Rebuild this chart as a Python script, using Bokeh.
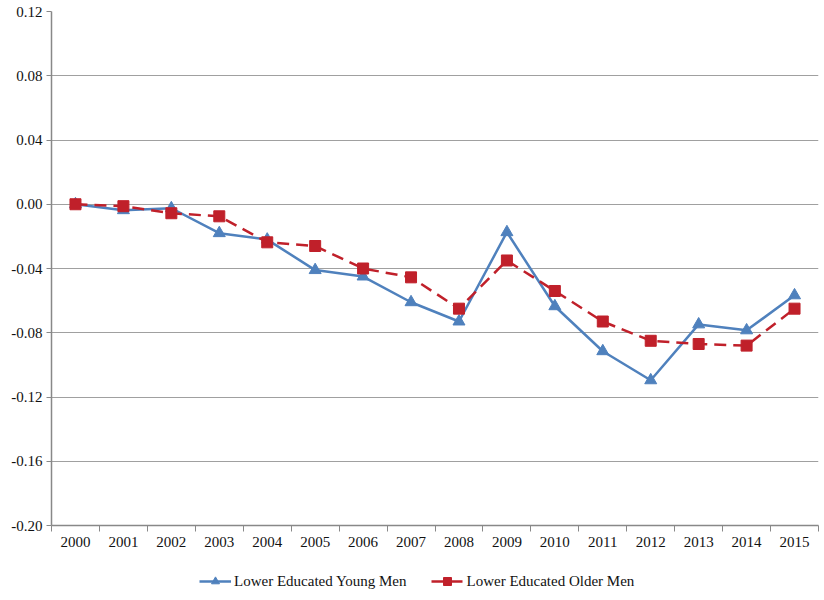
from bokeh.plotting import figure
from bokeh.layouts import column
from bokeh.models import FixedTicker, Range1d, Legend, LegendItem, ColumnDataSource
from bokeh.embed import file_html
from bokeh.resources import INLINE

years = ["2000", "2001", "2002", "2003", "2004", "2005", "2006", "2007",
         "2008", "2009", "2010", "2011", "2012", "2013", "2014", "2015"]
young_men = [0.0, -0.0037, -0.0025, -0.018, -0.022, -0.041, -0.045, -0.061,
             -0.073, -0.0174, -0.0635, -0.0915, -0.1096, -0.0748, -0.0785, -0.0567]
older_men = [0.0, -0.0012, -0.0056, -0.0075, -0.0237, -0.026, -0.040, -0.0455,
             -0.065, -0.035, -0.054, -0.073, -0.085, -0.087, -0.088, -0.065]
y_ticks = [-0.20, -0.16, -0.12, -0.08, -0.04, 0.00, 0.04, 0.08, 0.12]
y_tick_labels = ["-0.20", "-0.16", "-0.12", "-0.08", "-0.04", "0.00", "0.04", "0.08", "0.12"]
series_labels = ["Lower Educated Young Men", "Lower Educated Older Men"]

xs = list(range(len(years)))
src = ColumnDataSource(dict(x=xs, young=young_men, older=older_men))

FONT = "Liberation Serif"
FS = "15px"
BLUE = "#4F81BD"
RED = "#C0202A"

p = figure(width=820, height=554, output_backend="svg", toolbar_location=None,
           x_range=Range1d(-0.5, len(years) - 0.5), y_range=Range1d(-0.20, 0.12),
           min_border_left=51, min_border_right=2, min_border_top=11,
           min_border_bottom=29)
p.outline_line_color = None

# x axis: labels at centers, tick marks at category boundaries
p.xaxis.ticker = FixedTicker(ticks=xs, minor_ticks=[i - 0.5 for i in range(len(years) + 1)])
p.xaxis.major_label_overrides = {i: y for i, y in enumerate(years)}
p.xaxis.major_tick_line_color = None
p.xaxis.minor_tick_line_color = "#888888"
p.xaxis.minor_tick_out = 6
p.xaxis.minor_tick_in = 0
p.xaxis.axis_line_color = "#888888"
p.xaxis.axis_line_width = 1.5
p.xaxis.major_label_text_font = FONT
p.xaxis.major_label_text_font_size = FS
p.xaxis.major_label_text_color = "#111111"
p.xaxis.major_label_standoff = 5
p.xgrid.grid_line_color = None

p.yaxis.ticker = FixedTicker(ticks=y_ticks, minor_ticks=[])
p.yaxis.major_label_overrides = {t: l for t, l in zip(y_ticks, y_tick_labels)}
p.yaxis.major_tick_line_color = "#888888"
p.yaxis.major_tick_out = 5
p.yaxis.major_tick_in = 0
p.yaxis.axis_line_color = "#888888"
p.yaxis.axis_line_width = 1.5
p.yaxis.major_label_text_font = FONT
p.yaxis.major_label_text_font_size = FS
p.yaxis.major_label_text_color = "#111111"
p.yaxis.major_label_standoff = 4
p.ygrid.ticker = FixedTicker(ticks=y_ticks)
p.ygrid.grid_line_color = "#a0a0a0"
p.ygrid.grid_line_width = 1.2


def draw(fig):
    l1 = fig.line("x", "young", source=src, line_color=BLUE, line_width=2.5)
    m1 = fig.scatter("x", "young", source=src, marker="triangle", size=12,
                     fill_color=BLUE, line_color=BLUE)
    l2 = fig.line("x", "older", source=src, line_color=RED, line_width=2.5, line_dash="12 7")
    m2 = fig.scatter("x", "older", source=src, marker="square", size=11,
                     fill_color=RED, line_color=RED)
    return [l1, m1], [l2, m2]


draw(p)

# separate strip for the legend below the chart (glyphs lie outside its ranges)
lf = figure(width=820, height=46, output_backend="svg", toolbar_location=None,
            x_range=Range1d(100, 101), y_range=Range1d(100, 101),
            x_axis_type=None, y_axis_type=None,
            min_border_left=0, min_border_right=0, min_border_top=0, min_border_bottom=0)
lf.outline_line_color = None
lf.xgrid.grid_line_color = None
lf.ygrid.grid_line_color = None
r_young, r_older = draw(lf)

legend = Legend(items=[LegendItem(label=series_labels[0], renderers=r_young),
                       LegendItem(label=series_labels[1], renderers=r_older)],
                orientation="horizontal", location=(148, 9),
                label_text_font=FONT, label_text_font_size=FS,
                label_text_color="#111111", border_line_color=None,
                background_fill_alpha=0, label_standoff=3,
                glyph_width=32, spacing=25, margin=0, padding=4)
lf.add_layout(legend, "center")

layout = column(p, lf, spacing=0)
open("out.html", "w").write(file_html(layout, INLINE))
